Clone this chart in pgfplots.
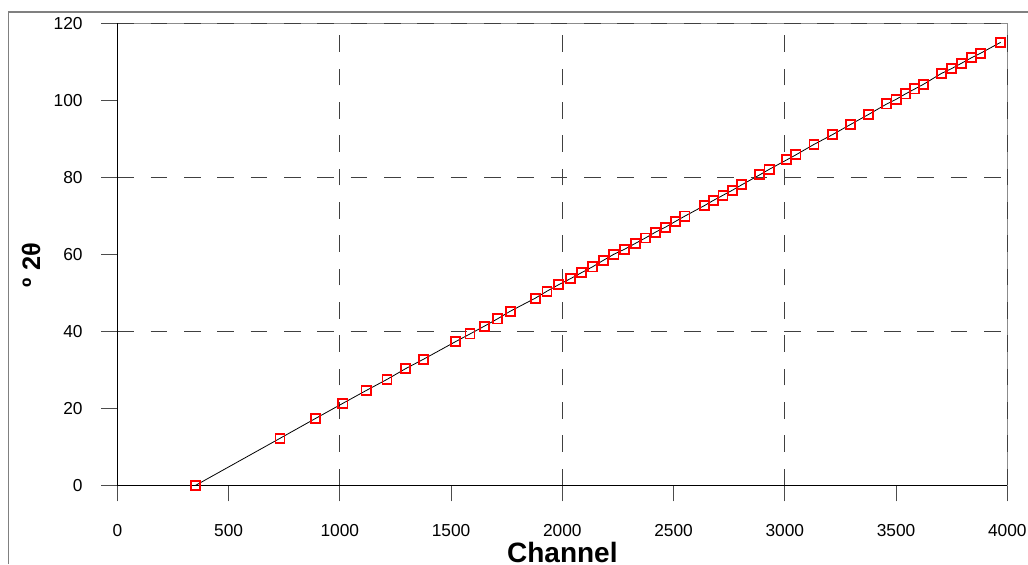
\documentclass[border=0pt]{standalone}
\usepackage{pgfplots}
\pgfplotsset{compat=1.18}
\usepackage{fontspec}
\setmainfont{Liberation Sans}
\begin{document}
\begin{tikzpicture}[x=1pt,y=1pt]
\useasboundingbox (0,0) rectangle (771,423);
\draw[black!50, line width=1.1pt] (6.2,0) -- (6.2,414) -- (771,414);
\begin{axis}[at={(88pt,59pt)}, anchor=south west, scale only axis,
 width=667.5pt, height=346.7pt,
 xmin=0, xmax=4000, ymin=0, ymax=120,
 xtick={0,500,...,4000}, ytick={0,20,...,120},
 /pgf/number format/assume math mode=true,
 /pgf/number format/1000 sep={},
 tick align=outside, tick pos=left, major tick length=12pt,
 tick style={color=black!70, line width=0.8pt},
 extra x ticks={1000,2000,3000,4000}, extra y ticks={40,80,120},
 extra x tick labels={}, extra y tick labels={},
 extra tick style={grid=major, major tick length=0pt},
 grid style={black!75, dash pattern=on 12.5pt off 12.5pt, line width=0.8pt},
 axis line style={black!45, line width=0.8pt},
 tick label style={font=\fontsize{13}{15}\selectfont},
 xticklabel style={yshift=-13.5pt},
 yticklabel style={xshift=-10.5pt},
 xlabel={Channel},
 xlabel style={font=\fontsize{21}{24}\selectfont\bfseries, at={(axis description cs:0.5,-0.145)}, anchor=center},
 ylabel={º 2θ},
 ylabel style={font=\fontsize{19}{22}\selectfont\bfseries, at={(axis description cs:-0.097,0.4765)}, anchor=center},
 clip=false,
]
\draw[black, line width=0.9pt] (rel axis cs:0,1) -- (rel axis cs:0,0) -- (rel axis cs:1,0);
\addplot[draw=black, line width=0.6pt, mark=square, mark size=3.4pt,
  mark options={color=red, draw=red, line width=1.4pt, fill=none, solid}] table {
x y
352 0
731 12.2
892 17.4
1014 21.3
1118 24.6
1212 27.5
1296 30.3
1375 32.7
1520 37.3
1585 39.3
1649 41.3
1708 43.2
1766 45.2
1879 48.6
1931 50.4
1984 52.1
2035 53.6
2086 55.2
2135 56.7
2184 58.4
2232 60.0
2280 61.3
2328 62.8
2373 64.2
2418 65.7
2463 67.0
2508 68.5
2551 69.9
2638 72.6
2680 74.0
2722 75.3
2764 76.6
2806 78.0
2887 80.6
2929 82.0
3009 84.5
3050 85.8
3131 88.5
3213 91.0
3296 93.7
3377 96.3
3458 99.0
3500 100.2
3542 101.6
3584 102.9
3623 104.1
3703 106.9
3750 108.2
3795 109.6
3839 111.0
3881 112.2
3970 115.0
};
\end{axis}
\end{tikzpicture}
\end{document}
